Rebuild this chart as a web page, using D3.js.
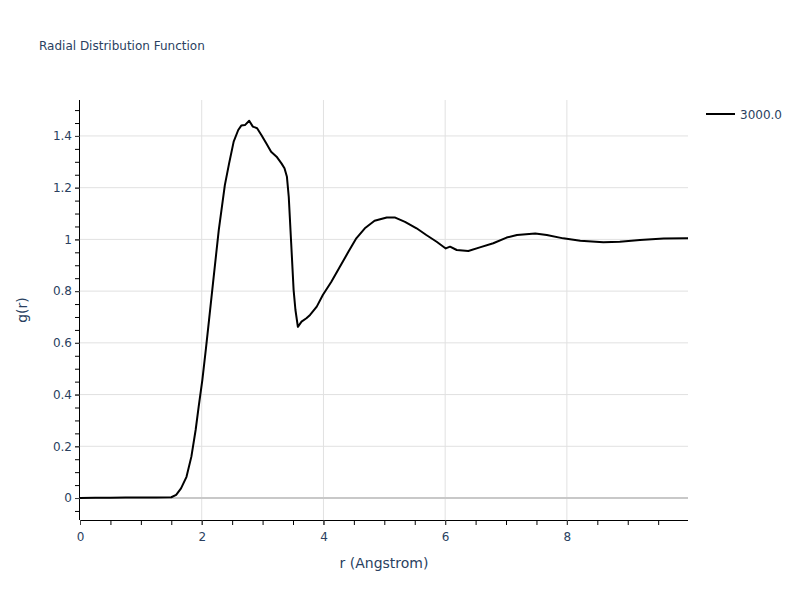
<!DOCTYPE html>
<html>
<head>
<meta charset="utf-8">
<script src="https://cdn.jsdelivr.net/npm/d3@7"></script>
<style>
  body { margin: 0; background: #fff; }
  text { font-family: "DejaVu Sans", verdana, arial, sans-serif; }
</style>
</head>
<body>
<svg id="chart" width="800" height="600"></svg>
<script>
const seriesName = "3000.0";
const rValues = [0, 0.25, 0.5, 0.75, 1.0, 1.25, 1.5, 1.58, 1.66, 1.75, 1.83, 1.9, 1.95, 2.01, 2.07, 2.12, 2.185, 2.28, 2.38, 2.45, 2.525, 2.6, 2.65, 2.71, 2.78, 2.84, 2.91, 2.98, 3.06, 3.14, 3.23, 3.31, 3.36, 3.40, 3.43, 3.47, 3.51, 3.54, 3.58, 3.64, 3.72, 3.78, 3.89, 3.99, 4.13, 4.27, 4.41, 4.54, 4.68, 4.84, 5.04, 5.17, 5.34, 5.53, 5.69, 5.86, 6.01, 6.08, 6.19, 6.38, 6.57, 6.79, 7.01, 7.18, 7.48, 7.67, 7.94, 8.22, 8.6, 8.87, 9.2, 9.59, 9.97, 9.99];
const gValues = [0, 0.001, 0.001, 0.002, 0.002, 0.002, 0.003, 0.012, 0.037, 0.082, 0.16, 0.263, 0.353, 0.456, 0.58, 0.688, 0.83, 1.036, 1.21, 1.294, 1.378, 1.423, 1.44, 1.442, 1.459, 1.436, 1.43, 1.404, 1.372, 1.339, 1.32, 1.294, 1.275, 1.242, 1.165, 0.985, 0.804, 0.727, 0.662, 0.682, 0.695, 0.708, 0.74, 0.785, 0.836, 0.894, 0.952, 1.004, 1.043, 1.072, 1.085, 1.085, 1.068, 1.043, 1.017, 0.991, 0.965, 0.972, 0.959, 0.955, 0.969, 0.985, 1.007, 1.017, 1.023, 1.017, 1.004, 0.995, 0.989, 0.991, 0.998, 1.003, 1.004, 1.005];
const xTickValues = [0, 2, 4, 6, 8];
const yTickValues = [0, 0.2, 0.4, 0.6, 0.8, 1, 1.2, 1.4];
const xDomain = [0, 9.99];
const yDomain = [-0.085, 1.539];

(function () {
const svg = d3.select("#chart");
const pL = 80, pR = 688, pT = 100, pB = 520;
const x = d3.scaleLinear().domain(xDomain).range([pL, pR]);
const y = d3.scaleLinear().domain(yDomain).range([pB, pT]);
const textColor = "#2a3f5f";

// grid
svg.append("g").selectAll("line").data(xTickValues.filter(d => d !== 0)).join("line")
  .attr("x1", d => x(d)).attr("x2", d => x(d)).attr("y1", pT).attr("y2", pB)
  .attr("stroke", "#e1e1e1").attr("stroke-width", 1);
svg.append("g").selectAll("line").data(yTickValues.filter(d => d !== 0)).join("line")
  .attr("x1", pL).attr("x2", pR).attr("y1", d => y(d)).attr("y2", d => y(d))
  .attr("stroke", "#e1e1e1").attr("stroke-width", 1);
// zero line
svg.append("line").attr("x1", pL).attr("x2", pR).attr("y1", y(0)).attr("y2", y(0))
  .attr("stroke", "#c8c8c8").attr("stroke-width", 2);

// axes with minor ticks
const xMinor = d3.range(0, 10.0001, 0.5).filter(d => d <= xDomain[1]);
const yMinor = d3.range(-0.05, 1.5001, 0.05);
const xAxisG = svg.append("g").attr("transform", `translate(0,${pB})`);
xAxisG.call(d3.axisBottom(x).tickValues(xMinor).tickSize(5).tickFormat(""));
xAxisG.select(".domain").attr("d", `M${pL},0.5H${pR}`).attr("stroke", "#000");
const xLab = svg.append("g").attr("transform", `translate(0,${pB})`);
xLab.call(d3.axisBottom(x).tickValues(xTickValues).tickSize(5).tickFormat(d3.format("d")));
xLab.select(".domain").remove();
xLab.selectAll("text").attr("fill", textColor).attr("font-size", 12).attr("dy", "1.05em");
xLab.selectAll("line").attr("stroke", "#444");

const yAxisG = svg.append("g").attr("transform", `translate(${pL},0)`);
yAxisG.call(d3.axisLeft(y).tickValues(yMinor).tickSize(5).tickFormat(""));
yAxisG.select(".domain").attr("d", `M-0.5,${pT}V${pB}`).attr("stroke", "#000");
const yLab = svg.append("g").attr("transform", `translate(${pL},0)`);
yLab.call(d3.axisLeft(y).tickValues(yTickValues).tickSize(5).tickFormat(d => d3.format("~g")(d)));
yLab.select(".domain").remove();
yLab.selectAll("text").attr("fill", textColor).attr("font-size", 12).attr("x", -8);
yLab.selectAll("line").attr("stroke", "#444");

// line
const data = rValues.map((r, i) => [r, gValues[i]]);
svg.append("clipPath").attr("id", "plotclip").append("rect")
  .attr("x", pL).attr("y", pT).attr("width", pR - pL).attr("height", pB - pT);
svg.append("path").datum(data)
  .attr("clip-path", "url(#plotclip)")
  .attr("fill", "none").attr("stroke", "#000").attr("stroke-width", 2)
  .attr("stroke-linejoin", "round")
  .attr("d", d3.line().x(d => x(d[0])).y(d => y(d[1])));

// titles
svg.append("text").attr("x", 39).attr("y", 50).attr("fill", textColor)
  .attr("font-size", 12).text("Radial Distribution Function");
svg.append("text").attr("x", (pL + pR) / 2).attr("y", 568).attr("text-anchor", "middle")
  .attr("fill", textColor).attr("font-size", 14).text("r (Angstrom)");
svg.append("text").attr("transform", `translate(27,${(pT + pB) / 2}) rotate(-90)`)
  .attr("text-anchor", "middle").attr("fill", textColor).attr("font-size", 14).text("g(r)");

// legend
const lg = svg.append("g").attr("transform", "translate(706,114)");
lg.append("line").attr("x1", 0).attr("x2", 29).attr("y1", 0).attr("y2", 0)
  .attr("stroke", "#000").attr("stroke-width", 2);
lg.append("text").attr("x", 34).attr("y", 4.5).attr("fill", textColor).attr("font-size", 12).text(seriesName);
})();
</script>
</body>
</html>
